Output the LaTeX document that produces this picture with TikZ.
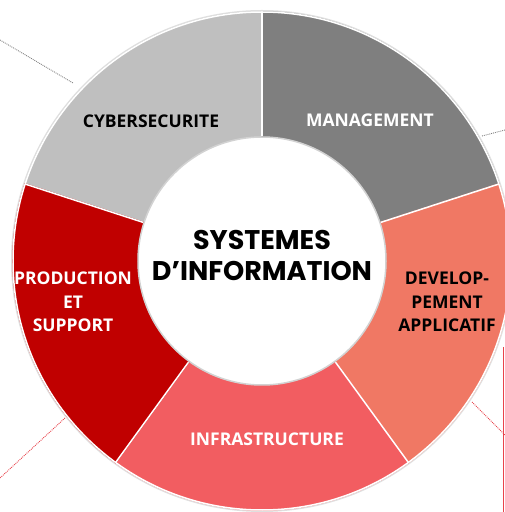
\documentclass[tikz,border=0pt]{standalone}
\usepackage{fontspec}
\setmainfont{Open Sans}
\newfontfamily\titlefont{Poppins}
\usepackage{tikz}

\definecolor{cyber}{HTML}{BFBFBF}
\definecolor{manag}{HTML}{7F7F7F}
\definecolor{devapp}{HTML}{F07864}
\definecolor{infra}{HTML}{F25D61}
\definecolor{prod}{HTML}{C00000}
\definecolor{dotred}{HTML}{E8434B}

\tikzset{
  seg/.style = {draw=white, line width=1.5pt},
  lbl/.style = {font=\bfseries\fontsize{17.5}{23.5}\selectfont, align=center, inner sep=0pt},
  lead/.style = {densely dotted, line width=0.9pt}
}

\begin{document}
\begin{tikzpicture}[x=1pt,y=1pt]
\useasboundingbox (0,0) rectangle (505,512);

\coordinate (c) at (262,251);

% leader lines
\coordinate (tl1) at (0,472);
\coordinate (tl2) at (73,429);
\coordinate (tr1) at (482,376);
\coordinate (tr2) at (505,382);
\coordinate (br1) at (472,110);
\coordinate (br2) at (505,77);
\coordinate (bl1) at (65,94);
\coordinate (bl2) at (0,34);
\coordinate (vr1) at (503,165);
\coordinate (vr2) at (503,0);
\draw[lead, gray] (tl1) -- (tl2);
\draw[lead, gray] (tr1) -- (tr2);
\draw[lead, dotred] (br1) -- (br2);
\draw[lead, dotred] (bl1) -- (bl2);
\draw[dotred, line width=1pt] (vr1) -- (vr2);

\begin{scope}[shift={(c)}]
\fill[gray!25] (0,0) circle (251);
\fill[seg, cyber] (90:249) arc (90:162:249) -- (162:125) arc (162:90:125) -- cycle;
\fill[seg, manag] (18:249) arc (18:90:249) -- (90:125) arc (90:18:125) -- cycle;
\fill[seg, devapp] (-54:249) arc (-54:18:249) -- (18:125) arc (18:-54:125) -- cycle;
\fill[seg, infra] (-126:249) arc (-126:-54:249) -- (-54:125) arc (-54:-126:125) -- cycle;
\fill[seg, prod] (162:249) arc (162:234:249) -- (234:125) arc (234:162:125) -- cycle;
\draw[seg] (0,0) circle (249);
\draw[seg] (90:249) -- (90:125);
\draw[seg] (18:249) -- (18:125);
\draw[seg] (-54:249) -- (-54:125);
\draw[seg] (-126:249) -- (-126:125);
\draw[seg] (162:249) -- (162:125);
\filldraw[fill=white, draw=gray!35, line width=1.5pt] (0,0) circle (124);
\end{scope}

\node[lbl] (cyb) at (151,391) {CYBERSECURITE};
\node[lbl, white] (man) at (370,392) {MANAGEMENT};
\node[lbl] (dev) at (447,210) {DEVELOP-\\PEMENT\\APPLICATIF};
\node[lbl, white] (prd) at (73,210) {PRODUCTION\\ET\\SUPPORT};
\node[lbl, white] (inf) at (267,73) {INFRASTRUCTURE};
\node[font=\titlefont\bfseries\fontsize{27}{31}\selectfont, align=center, inner sep=0pt] (si) at (262,257) {SYSTEMES\\D’INFORMATION};
\end{tikzpicture}
\end{document}
